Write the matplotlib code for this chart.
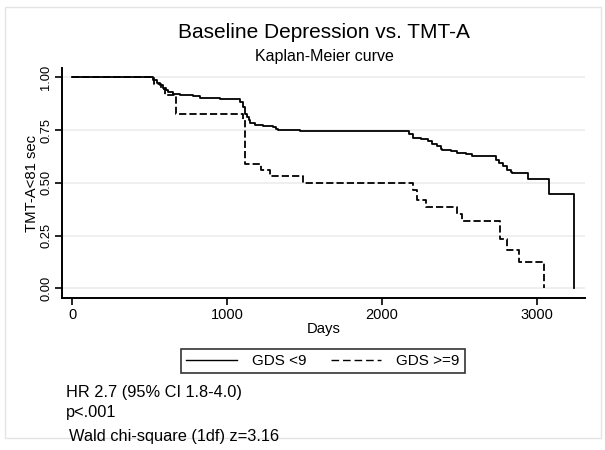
import numpy as np
import matplotlib
matplotlib.use("Agg")
import matplotlib.pyplot as plt
from matplotlib.patches import Rectangle

plt.rcParams.update(
    {
        "font.family": ["Liberation Sans", "DejaVu Sans"],
        "xtick.direction": "out",
        "ytick.direction": "out",
    }
)

# Kaplan-Meier estimates (days, survival)
days_low = [0, 524, 545, 567, 588, 603, 620, 652, 695, 781, 824, 953,
            1082, 1103, 1118, 1129, 1140, 1150, 1178, 1232, 1296, 1318, 1329, 1468,
            2176, 2202, 2252, 2295, 2327, 2353, 2381, 2391, 2445, 2488, 2503, 2541,
            2584, 2739, 2756, 2782, 2810, 2831, 2842, 2945, 3082, 3243]
surv_low = [1.0, 0.985, 0.973, 0.962, 0.949, 0.940, 0.930, 0.922, 0.918, 0.911, 0.902, 0.896,
            0.883, 0.859, 0.828, 0.812, 0.796, 0.784, 0.776, 0.769, 0.765, 0.757, 0.749, 0.745,
            0.730, 0.714, 0.709, 0.698, 0.686, 0.673, 0.662, 0.657, 0.651, 0.643, 0.640, 0.638,
            0.628, 0.610, 0.594, 0.578, 0.562, 0.553, 0.547, 0.516, 0.445, 0.0]

days_high = [0, 530, 575, 600, 668, 1100, 1118, 1221, 1279, 1490,
             2198, 2230, 2288, 2488, 2520, 2766, 2805, 2885, 3046]
surv_high = [1.0, 0.970, 0.945, 0.915, 0.825, 0.796, 0.591, 0.559, 0.531, 0.501,
             0.464, 0.417, 0.385, 0.354, 0.320, 0.235, 0.183, 0.125, 0.0]

groups = ["GDS <9", "GDS >=9"]
xticks = [0, 1000, 2000, 3000]
yticks = [0.0, 0.25, 0.5, 0.75, 1.0]

W, H = 605, 450
fig = plt.figure(figsize=(W / 100, H / 100), dpi=100)
fig.patch.set_facecolor("white")

# light outer frame like the Stata graph region
fig.patches.append(
    Rectangle((5 / W, 1 - 438 / H), 596 / W, 431 / H, transform=fig.transFigure,
              fill=False, edgecolor="#e4e4e4", linewidth=1.0)
)

ax = fig.add_axes([62 / W, 1 - 298 / H, 523 / W, 230 / H])
ax.step(days_low, surv_low, where="post", color="black", lw=1.3, label=groups[0])
ax.step(days_high, surv_high, where="post", color="black", lw=1.3,
        linestyle=(0, (4, 1.7)), label=groups[1])

ax.set_xlim(-66, 3312)
ax.set_ylim(-0.046, 1.044)
ax.set_xticks(xticks)
ax.set_yticks(yticks)
ax.set_yticklabels([f"{v:.2f}" for v in yticks], rotation=90, va="center")
ax.tick_params(axis="x", labelsize=10.5, length=5, width=1.2, pad=2.5)
ax.tick_params(axis="y", labelsize=9.3, length=5, width=1.2, pad=2)
for s in ["top", "right"]:
    ax.spines[s].set_visible(False)
for s in ["left", "bottom"]:
    ax.spines[s].set_linewidth(1.4)
ax.yaxis.grid(True, color="#ebebeb", lw=1.1)
ax.set_axisbelow(True)

ax.set_xlabel("Days", fontsize=10.7, labelpad=0)
ax.set_ylabel("TMT-A<81 sec", fontsize=10.7, labelpad=1)

fig.text(324 / W, 1 - 33 / H, "Baseline Depression vs. TMT-A", fontsize=15,
         ha="center", va="center")
fig.text(324 / W, 1 - 57 / H, "Kaplan-Meier curve", fontsize=11.5,
         ha="center", va="center")

leg = fig.legend(loc="center", bbox_to_anchor=(323 / W, 1 - 361 / H), ncol=2,
                 fontsize=11, frameon=True, fancybox=False, edgecolor="black",
                 handlelength=3.3, columnspacing=1.6, borderpad=0.35,
                 handletextpad=1.0)
leg.get_frame().set_linewidth(1.2)
for line in leg.get_lines():
    line.set_linewidth(1.0)
leg.get_lines()[1].set_linestyle((0, (5.5, 2.8)))

fig.text(66 / W, 1 - 392 / H, "HR 2.7 (95% CI 1.8-4.0)", fontsize=11.8, va="center")
fig.text(66 / W, 1 - 412 / H, "p<.001", fontsize=11.8, va="center")
fig.text(69 / W, 1 - 437 / H, "Wald chi-square (1df) z=3.16", fontsize=11.8, va="center")

fig.savefig("out.png", dpi=100)
